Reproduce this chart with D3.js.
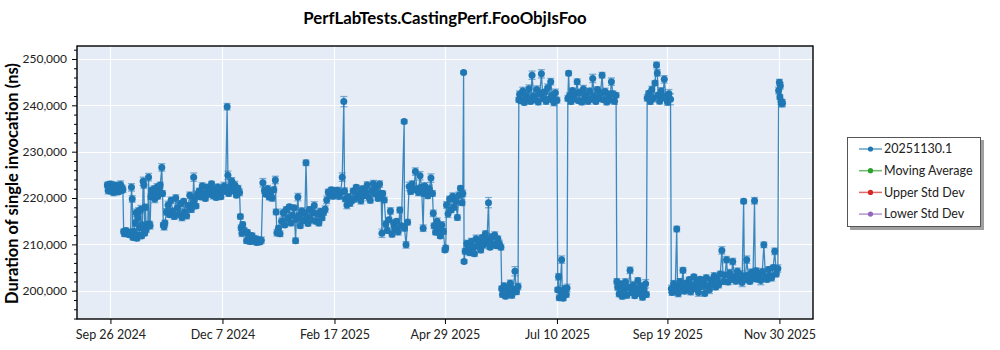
<!DOCTYPE html>
<html><head><meta charset="utf-8">
<script src="https://cdn.jsdelivr.net/npm/d3@7"></script>
<style>
body{margin:0;background:#fff;}
text{font-family:"Segoe UI",Lato,"Open Sans",sans-serif;}
</style>
</head><body>
<svg id="c" width="1000" height="350"></svg>
<script>
const title = "PerfLabTests.CastingPerf.FooObjIsFoo";
const yLabel = "Duration of single invocation (ns)";
const startDate = "2024-09-26";
const xTickLabels = ["Sep 26 2024","Dec 7 2024","Feb 17 2025","Apr 29 2025","Jul 10 2025","Sep 19 2025","Nov 30 2025"];
const yTicks = [200000,210000,220000,230000,240000,250000];
const xDomain = ["2024-09-04T12:00:00Z","2025-12-21T14:00:00Z"];
const yDomain = [193900, 252800];
const legendNames = ["20251130.1","Moving Average","Upper Std Dev","Lower Std Dev"];
const legendColors = ["#1f77b4","#2ca02c","#d62728","#9467bd"];

// day offsets from startDate
const days = [
-2,-1.5,-1,-0.5,0,0.5,1,1.5,2,2.5,
3,3.5,4,4.5,5,5.5,6,6.5,7,7.5,
8,8.5,9,10,11,12,13,13.5,14,14.5,
15,16,16.5,17,17.5,18,18.5,19,19.5,20,
20.5,21,21.5,22,22.5,23,24,24.5,25,25.5,
26,26.5,27,28,28.5,29,30,30.5,31,32,
33,33.5,34,34.5,35,36,37,38,39,40,
41,42,43,44,45,46,47,48,49,50,
51,52,53,53.5,54,55,56,57,58,59,
60,61,62,63,64,65,66,67,68,69,
70,71,72,73,74,75,75.5,76,77,78,
79,80,81,82,83,83.5,84,84.5,85,86,
87.5,88,89,90,91,92,93,94,95,96,
97,98,99,100,101,102,103,104,105,106,
106.5,107,108,109,110,111,112,113,114,115,
116,117,118,119,119.5,120.5,121,122,123,124,
125,125.7,126.5,127,128,129,130,131,132,133,
134,135,136,137,138,139,140,141,142,143,
144,145,146,147,148,149,150,150.5,151,152,
153,154,155,156,157,158,159,160,161,162,
163,164,165,166,167,168,169,170,171,172,
173,174,174.5,175,176,177,178,179,180,181,
182,183,184,185,186,187,188.8,189,190,191,
192,193,194,195,196,197,198,199,200,201,
201.5,202,203,204,205,206,207,207.5,208,209,
210,211,212,213,214,215,215.5,216,217,218,
219,220,221,222,223,224,225,226,226.5,227,
227.3,228,229,230,231,232,233,234,235,236,
237,238,239,240,241,242,243,243.5,244,245,
246,247,248,249,250,251,251.5,252,253,254,
255,256,257,258,259,260,261,262,262.5,263,
264,265,266,267,268,269,270,271,272,273,
274,275,276,277,278,279,280,281,282,283,
284,285,286,287,287.5,288,288.5,289,290,290.5,
291,292,293,293.5,294,294.5,295,296,297,298,
299,300,301,302,303,304,305,306,307,308,
309,310,311,312,313,314,315,316,317,318,
319,320,321,322,323,324,325,325.5,326,327,
328,329,330,331,332,333,334,335,336,337,
338,339,340,341,342,343,344,344.5,345,346,
347,348,349,350,351,351.5,352,353,354,355,
356,357,358,359,360,360.5,361,362,363,364,
364.5,365,366,367,368,369,370,371,372,373,
374,375,376,377,378,379,380,381,382,383,
384,385,386,387,388,389,390,391,392,393,
394,395,396,397,398,399,400,401,402,403,
404,405,406,407,407.5,408,409,410,411,412,
413,414,414.5,415,416,417,418,419,420,421,
422,423,424,425,426,427,428,429,429.5,430,
430.3,430.6,431,431.5,432
];

// duration in ns
const values = [
222800,221600,222900,221900,223000,221500,222600,222200,221200,222800,
222000,221400,222700,222300,221300,222500,221800,222900,221600,222200,
221800,212800,212300,213000,212500,212100,212600,222300,219800,211500,
212800,214600,216800,211300,215800,217200,212000,213600,217600,211800,
214200,223600,222800,212400,218000,213200,214300,224500,214400,214000,
220300,221600,220500,222000,219800,221200,222400,220400,221800,222800,
226600,221000,214200,213800,214600,217000,218500,216400,219500,217200,
216000,220000,217800,216500,218800,215800,219300,217000,216200,218400,
220600,217500,218900,224500,219800,218300,220800,221500,220200,222600,
221000,219900,222300,220800,221600,223100,220500,221800,220100,222400,
221200,220300,221900,222600,221400,239700,224900,221000,222500,223700,
221500,222800,220600,222100,221200,216000,213600,212400,214300,213000,
210800,212600,211500,210600,211900,210800,211200,210400,211000,210500,
210900,223300,221600,220800,222000,220200,221400,220000,221800,223900,
217000,212500,213500,212300,215000,216800,214200,217500,215600,218100,
214600,216300,217900,210800,215400,220200,216200,214000,217200,215100,
216700,227600,215800,214500,217500,215300,216800,218400,215000,216600,
214600,217100,215700,216900,217600,219600,221300,220600,221800,220400,
221500,220900,221700,220400,221200,224500,240800,221500,219800,218500,
220300,218900,219400,221500,219800,222300,220600,221000,219400,222000,
220500,221300,222800,220200,219500,221600,223100,220900,222400,219900,
223000,221000,212400,221000,219600,214400,213000,215300,217200,212200,
214600,213400,215000,212700,217400,214000,236500,213500,209900,214800,
222500,221400,223000,221800,225700,222000,221200,224800,222300,213500,
221000,222600,221400,220500,222000,224300,221000,216700,214000,212600,
215000,213400,211800,214200,212800,208800,209200,218500,216600,219800,
217400,220400,218000,219300,215800,220600,222100,219000,221000,247100,
206300,208500,210200,209000,208200,210600,209400,208000,211200,209600,
210400,208800,211500,209900,212300,210600,219000,211000,209400,211600,
210000,212000,209700,211200,210200,209400,200500,199200,201000,198800,
200600,199500,201600,199000,200300,204200,199800,200900,241200,242400,
241000,243100,240600,242200,241400,243600,240800,246500,242000,241200,
243400,240700,242600,246800,241500,242900,240900,243800,241300,245100,
242100,240600,242700,241100,200200,203000,198500,200000,206700,199000,
198400,200400,199200,200600,241500,246900,242000,240800,243200,241400,
242600,245100,241000,242800,240700,243500,241600,242300,240900,243100,
241300,245800,242000,240800,243400,241500,242600,246500,241200,243000,
240700,242400,241100,245100,242500,240900,242200,202000,200800,199300,
201400,198800,200300,201900,199000,200700,204400,199600,201200,198900,
200500,202200,199400,201000,198600,200300,201500,199200,241600,242600,
240800,243400,241500,244800,248700,247000,242200,240900,243100,241600,
245600,242000,240700,242500,241300,200400,199600,201500,200200,213300,
201000,199400,202000,200800,204400,199900,201600,200300,202400,199800,
201200,203000,200500,201800,199600,202500,200900,201600,199400,202800,
201000,200200,202300,201400,203200,200800,202600,201300,203600,208700,
202000,203400,206700,201900,203800,202400,206300,203000,202100,204200,
202800,203500,201800,219300,203100,202400,206700,203300,202000,204000,
202600,219400,203000,204300,202500,203700,202200,204100,209900,203000,
202400,204600,203200,202800,205000,208500,203600,204800,243200,245000,
241800,244200,240800,240400,240500
];

// half-width of the error bar (ns)
const errors = [
600,700,500,800,600,700,500,600,700,500,
600,500,700,600,500,700,600,800,500,600,
600,500,600,500,700,500,600,800,700,500,
600,700,800,500,600,700,500,600,800,500,
600,900,700,500,700,600,500,800,600,700,
600,700,500,600,800,500,700,600,500,600,
800,600,500,700,600,700,800,500,700,600,
600,700,500,800,600,700,500,600,700,500,
700,600,800,900,600,500,700,600,500,700,
600,500,700,600,800,500,700,600,500,600,
700,500,600,800,600,700,900,600,500,700,
600,800,500,600,700,500,600,700,500,600,
600,500,700,600,500,600,700,500,600,500,
700,900,600,500,700,600,500,700,600,800,
600,700,500,600,700,800,500,600,700,500,
600,700,500,600,700,800,600,500,700,600,
700,600,800,500,600,700,500,800,600,700,
600,700,500,600,700,800,600,700,500,600,
700,500,600,700,500,900,1100,700,600,800,
600,700,500,600,700,500,600,800,700,600,
500,600,700,800,600,500,700,600,800,500,
700,600,900,500,600,700,600,500,700,600,
700,600,500,700,600,500,400,600,700,600,
900,600,700,500,800,600,700,900,600,700,
600,700,500,600,800,900,600,700,600,500,
700,600,500,700,600,500,600,700,800,600,
500,700,600,800,600,700,500,600,700,300,
400,600,700,500,600,700,500,600,800,600,
700,600,500,800,600,700,1100,600,500,700,
600,700,500,600,700,600,500,600,700,500,
600,500,700,600,500,1000,600,700,500,700,
600,800,500,700,600,800,500,900,600,700,
800,600,700,900,600,500,700,800,600,700,
600,700,800,600,500,700,600,500,800,600,
500,700,600,800,600,500,700,600,500,800,
700,600,500,700,600,800,500,600,700,600,
600,900,700,500,600,700,800,600,500,700,
600,700,500,800,600,700,500,600,700,600,
800,600,500,700,600,500,700,600,800,500,
700,600,500,700,600,800,900,600,700,500,
600,700,800,500,600,700,600,600,700,600,
800,600,700,900,1200,800,600,700,500,600,
800,700,600,700,600,500,600,700,500,700,
600,500,700,600,800,500,600,700,500,600,
700,800,600,500,700,600,500,700,600,800,
600,500,700,600,800,500,700,600,700,700,
600,800,900,500,700,600,800,600,500,700,
600,700,500,600,600,500,900,700,600,700,
500,600,600,700,500,700,600,800,700,600,
500,700,600,800,700,800,600,700,600,700,
600,700,600,500,600
];

const svg = d3.select("#c");
const L = 77, T = 46, R = 813, B = 319;
const parseTick = d3.utcParse("%b %d %Y");
const start = d3.utcParse("%Y-%m-%d")(startDate);
const x = d3.scaleUtc().domain(xDomain.map(s => new Date(s))).range([L, R]);
const y = d3.scaleLinear().domain(yDomain).range([B, T]);

const n = Math.min(days.length, values.length, errors.length);
const pts = d3.range(n).map(i => ({
  d: new Date(start.getTime() + days[i] * 864e5),
  v: values[i], e: errors[i]
}));

// background
svg.append("rect").attr("x", L).attr("y", T).attr("width", R - L).attr("height", B - T).attr("fill", "#e5ecf6");

// grid
const xTickDates = xTickLabels.map(parseTick);
const grid = svg.append("g").attr("stroke", "#fff").attr("stroke-width", 1.2);
yTicks.forEach(t => grid.append("line").attr("x1", L).attr("x2", R).attr("y1", Math.round(y(t)) + 0.5).attr("y2", Math.round(y(t)) + 0.5));
xTickDates.forEach(t => grid.append("line").attr("y1", T).attr("y2", B).attr("x1", Math.round(x(t)) + 0.5).attr("x2", Math.round(x(t)) + 0.5));

const plot = svg.append("g");
// error bars
const eb = plot.append("g").attr("stroke", "#1f77b4").attr("stroke-opacity", 0.55).attr("stroke-width", 1.3);
pts.forEach(p => {
  const cx = x(p.d), y1 = y(p.v + p.e), y2 = y(p.v - p.e);
  eb.append("line").attr("x1", cx).attr("x2", cx).attr("y1", y1).attr("y2", y2);
  eb.append("line").attr("x1", cx - 3.5).attr("x2", cx + 3.5).attr("y1", y1).attr("y2", y1);
  eb.append("line").attr("x1", cx - 3.5).attr("x2", cx + 3.5).attr("y1", y2).attr("y2", y2);
});
// line
plot.append("path").datum(pts)
  .attr("fill", "none").attr("stroke", "#1f77b4").attr("stroke-width", 1.3).attr("stroke-opacity", 0.85)
  .attr("d", d3.line().x(p => x(p.d)).y(p => y(p.v)));
// markers
plot.append("g").selectAll("circle").data(pts).join("circle")
  .attr("cx", p => x(p.d)).attr("cy", p => y(p.v)).attr("r", 3.5).attr("fill", "#1f77b4");

// frame
svg.append("rect").attr("x", L).attr("y", T).attr("width", R - L).attr("height", B - T)
  .attr("fill", "none").attr("stroke", "#000").attr("stroke-width", 1.4);

// axes
const xAxis = svg.append("g").attr("transform", `translate(0,${B})`)
  .call(d3.axisBottom(x).tickValues(xTickDates).tickSize(5).tickFormat(d3.utcFormat("%b %-d %Y")));
const yAxis = svg.append("g").attr("transform", `translate(${L},0)`)
  .call(d3.axisLeft(y).tickValues(yTicks).tickSize(5).tickPadding(5).tickFormat(d3.format(",")));
const minor = d3.range(194000, 252001, 2000).filter(v => v % 10000 !== 0);
svg.append("g").attr("transform", `translate(${L},0)`)
  .call(d3.axisLeft(y).tickValues(minor).tickSize(3).tickFormat(""))
  .call(g => g.select(".domain").remove());
[xAxis, yAxis].forEach(g => {
  g.select(".domain").remove();
  g.selectAll("text").attr("font-size", 12).attr("fill", "#222")
    .style("font-family", '"Segoe UI",Lato,"Open Sans",sans-serif');
  g.selectAll("line").attr("stroke", "#000");
});
xAxis.selectAll("text").attr("font-size", 12.5).attr("dy", "0.95em");

// title
svg.append("text").attr("x", 445).attr("y", 24).attr("text-anchor", "middle")
  .attr("font-size", 16.8).attr("font-weight", "bold").attr("fill", "#000").text(title);
// y label
svg.append("text").attr("transform", `translate(18,${(T + B) / 2 + 1}) rotate(-90)`)
  .attr("text-anchor", "middle").attr("font-size", 16.5).attr("font-weight", "bold").attr("fill", "#000").text(yLabel);

// legend
const lg = svg.append("g");
lg.append("rect").attr("x", 850).attr("y", 140).attr("width", 134).attr("height", 90).attr("fill", "#a0a0a0");
lg.append("rect").attr("x", 847.5).attr("y", 137.5).attr("width", 133).attr("height", 89).attr("fill", "#fff").attr("stroke", "#555");
legendNames.forEach((name, i) => {
  const yy = 149 + i * 21.7;
  lg.append("line").attr("x1", 859).attr("x2", 882).attr("y1", yy).attr("y2", yy)
    .attr("stroke", legendColors[i]).attr("stroke-opacity", 0.7).attr("stroke-width", 1.5);
  lg.append("circle").attr("cx", 870.5).attr("cy", yy).attr("r", 2.6).attr("fill", legendColors[i]);
  lg.append("text").attr("x", 884).attr("y", yy + 4.3).attr("font-size", 12.5).attr("fill", "#222").text(name);
});
</script>
</body></html>
